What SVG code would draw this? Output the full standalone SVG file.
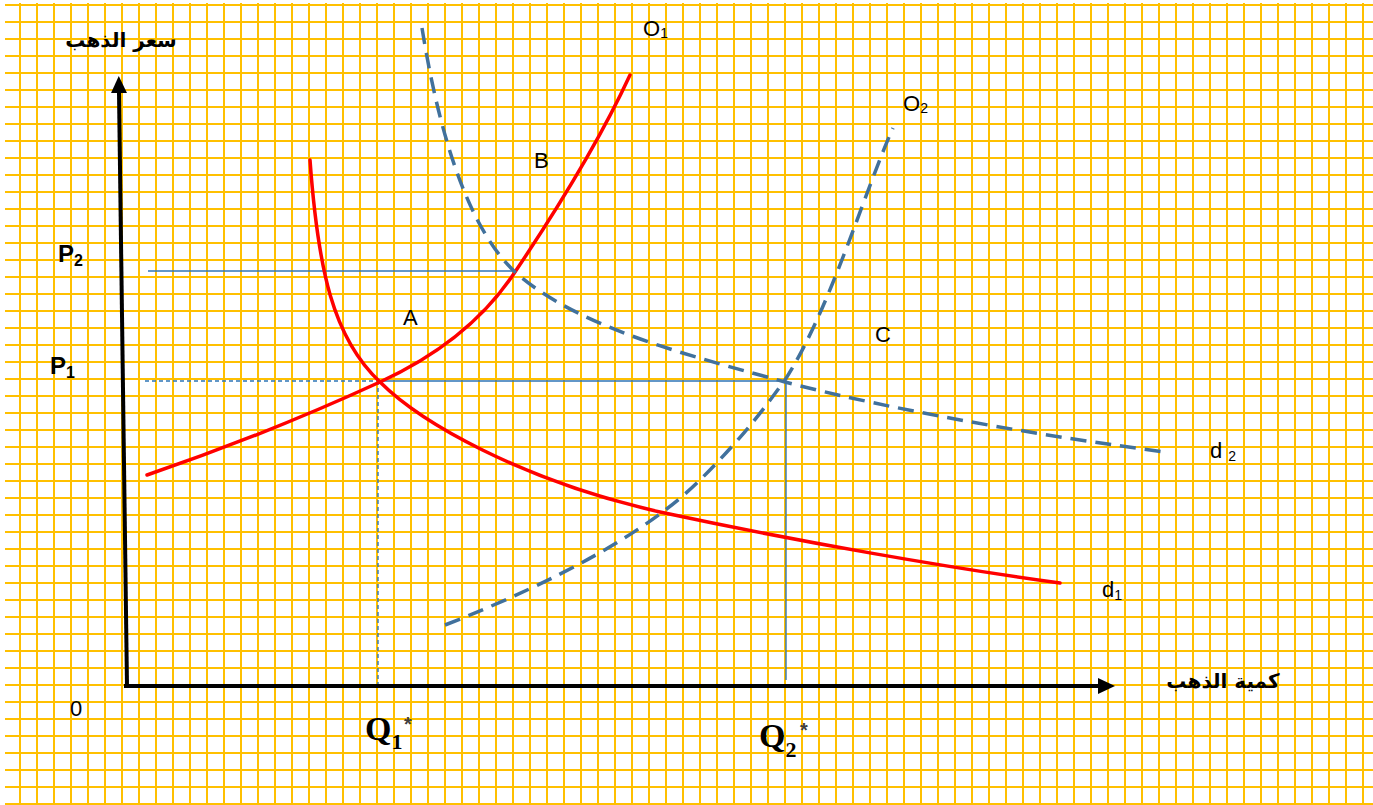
<svg xmlns="http://www.w3.org/2000/svg" width="1373" height="805" viewBox="0 0 1373 805">
  <defs>
    <pattern id="grid" x="12" y="-4" width="17" height="17" patternUnits="userSpaceOnUse">
      <rect x="7" y="0" width="2" height="17" fill="#FFC000"/>
      <rect x="0" y="8" width="17" height="2" fill="#FFC000"/>
    </pattern>
    <marker id="arr" markerWidth="17" markerHeight="16" refX="0" refY="8" orient="auto" markerUnits="userSpaceOnUse">
      <path d="M0,0 L17,8 L0,16 z" fill="#000"/>
    </marker>
    <style>
      .axis { stroke:#000; stroke-width:4; fill:none; }
      .red { stroke:#FF0000; stroke-width:3.5; fill:none; stroke-linecap:round; }
      .bdash { stroke:#41719C; stroke-width:3.5; fill:none; stroke-dasharray:16 9; }
      .thin { stroke:#2E75B6; stroke-width:1.4; fill:none; }
      .thindash { stroke:#2E75B6; stroke-width:1.4; fill:none; stroke-dasharray:4 3; }
      .lbl { font-family:"Liberation Sans", Arial, sans-serif; font-size:22px; fill:#000; }
      .sub { font-size:14px; }
      .bold { font-weight:bold; }
      .p { font-size:24px; }
      .psub { font-size:16px; }
      .q { font-family:"Liberation Serif", "Times New Roman", serif; font-weight:bold; font-size:34px; fill:#000; }
      .qsub { font-size:22px; }
      .star { font-family:"Liberation Sans", Arial, sans-serif; font-weight:bold; font-size:20px; fill:#404040; }
      .ar { font-family:"DejaVu Sans", "Noto Sans", sans-serif; font-weight:bold; font-size:20px; fill:#000; }
    </style>
  </defs>

  <rect x="0" y="0" width="1373" height="805" fill="#FFFFFF"/>
  <rect x="5" y="3" width="1368" height="802" fill="url(#grid)"/>

  <g id="connectors">
    <line class="thin" x1="148" y1="271" x2="515" y2="271"/>
    <line class="thindash" x1="145" y1="381" x2="380" y2="381"/>
    <line class="thin" x1="380" y1="381" x2="786" y2="381"/>
    <line class="thindash" x1="378" y1="381" x2="378" y2="684"/>
    <line class="thin" x1="786" y1="381" x2="786" y2="680"/>

    <path id="d1" class="red" d="M310,160 C318,270 333,338 380,382 C420,422 520,480 660,512 C800,542 950,568 1060,583"/>
    <path id="O1" class="red" d="M147,475 C250,440 330,405 380,382 C450,350 490,310 515,272 C560,205 600,140 630,75"/>
    <path id="d2" class="bdash" d="M422,28 C440,140 470,230 515,272 C580,330 700,358 785,382 C900,412 1050,437 1165,452"/>
    <path id="O2" class="bdash" d="M445,625 C560,580 650,530 700,480 C750,430 770,400 785,380 C830,310 865,190 893,128"/>

    <line class="axis" x1="127" y1="686" x2="119" y2="93" marker-end="url(#arr)"/>
    <line class="axis" x1="124" y1="686" x2="1098" y2="686" marker-end="url(#arr)"/>
  </g>

  <g id="axis-labels">
    <text class="ar" x="121" y="47" text-anchor="middle" direction="rtl">سعر الذهب</text>
    <text class="ar" x="1223" y="688" text-anchor="middle" direction="rtl">كمية الذهب</text>
    <text class="lbl" x="70" y="716" font-size="20">0</text>
  </g>

  <g id="price-labels">
    <text class="lbl bold p" x="58" y="262">P<tspan class="psub" dy="4">2</tspan></text>
    <text class="lbl bold p" x="50" y="374">P<tspan class="psub" dy="4">1</tspan></text>
  </g>

  <g id="quantity-labels">
    <text class="q" x="365" y="740">Q<tspan class="qsub" dy="9">1</tspan></text>
    <text class="star" x="404" y="731">*</text>
    <text class="q" x="759" y="747">Q<tspan class="qsub" dy="10">2</tspan></text>
    <text class="star" x="800" y="737">*</text>
  </g>

  <g id="curve-labels">
    <text class="lbl" x="643" y="36">O<tspan class="sub" dy="2">1</tspan></text>
    <text class="lbl" x="903" y="111">O<tspan class="sub" dy="2">2</tspan></text>
    <text class="lbl" x="1210" y="458">d <tspan class="sub" dy="3">2</tspan></text>
    <text class="lbl" x="1102" y="597">d<tspan class="sub" dy="3">1</tspan></text>
  </g>

  <g id="point-labels">
    <text class="lbl" x="534" y="168" font-size="20">B</text>
    <text class="lbl" x="403" y="325" font-size="20">A</text>
    <text class="lbl" x="875" y="342" font-size="20">C</text>
  </g>
</svg>
